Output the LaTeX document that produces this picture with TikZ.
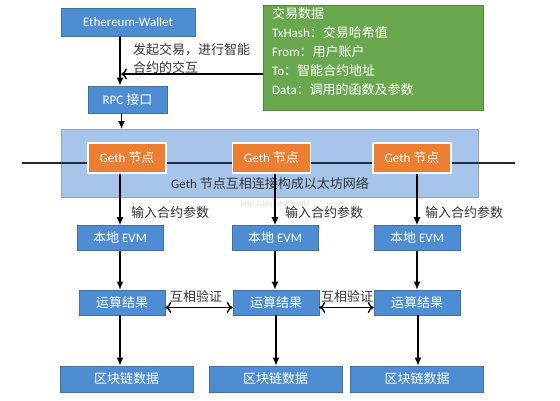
\documentclass[tikz,border=0pt]{standalone}
\usepackage{fontspec}
\setmainfont{Carlito}
\newfontfamily\cjk{Noto Sans CJK SC}
\usetikzlibrary{arrows.meta}
\definecolor{boxblue}{HTML}{4E8DD4}
\definecolor{boxedge}{HTML}{41719C}
\definecolor{bandblue}{HTML}{A7C5EA}
\definecolor{gethor}{HTML}{ED7D31}
\definecolor{grn}{HTML}{6AA84F}
\definecolor{navy}{HTML}{1F2A44}
\definecolor{lbl}{HTML}{333333}
\tikzset{
  bbox/.style={draw=boxedge, line width=0.6pt, fill=boxblue, text=white, font=\fontsize{13}{15}\selectfont, inner sep=0pt},
  gbox/.style={draw=white, line width=1.5pt, fill=gethor, text=white, font=\fontsize{13}{15}\selectfont, inner sep=0pt, minimum width=78pt, minimum height=30pt},
  lab/.style={text=lbl, font=\fontsize{13}{15}\selectfont\cjk, inner sep=0pt, anchor=west},
  arr/.style={line width=1.4pt, -{Latex[length=8pt,width=7pt]}},
  oarr/.style={line width=1.4pt, -{To[length=6pt,width=11pt]}},
  darr/.style={line width=1.4pt, {To[length=6pt,width=11pt]}-{To[length=6pt,width=11pt]}},
}
\begin{document}
\begin{tikzpicture}[x=1pt,y=-1pt]
\useasboundingbox (0,0) rectangle (560,400);
\fill[white] (0,0) rectangle (560,400);

% top part
\node[bbox, minimum width=134pt, minimum height=28pt] (wallet) at (128,22) {Ethereum-Wallet};
\node[bbox, minimum width=79pt, minimum height=27pt] (rpc) at (127.5,99.5) {RPC {\cjk 接口}};
\node[fill=grn, draw=grn!80!black, line width=0.4pt, anchor=north west, minimum width=220pt, minimum height=105pt, inner sep=0pt] (green) at (263,5) {};
\node[anchor=north west, text width=205pt, align=left, inner sep=0pt, text=white,
      font=\fontsize{13}{19}\selectfont] (gtext) at (272,7.5)
  {{\cjk 交易数据}\\TxHash{\cjk ：交易哈希值}\\From{\cjk ：用户账户}\\To{\cjk ：智能合约地址}\\Data{\cjk ：调用的函数及参数}};

\node[lab] (t1) at (133,50) {发起交易，进行智能};
\node[lab] (t2) at (133,68) {合约的交互};

\coordinate (gh) at (121,74);
\draw[arr] ([xshift=-8pt]wallet.south) -- ([xshift=-8pt]wallet.south |- rpc.north);
\draw[oarr] (green.west |- gh) -- (gh);

% band
\node[fill=bandblue, draw=bandblue!85!black, line width=0.4pt, anchor=north west, minimum width=417pt, minimum height=68pt, inner sep=0pt] (band) at (61,129) {};
\draw[arr] ([xshift=-6pt]rpc.south) -- ([xshift=-6pt]rpc.south |- band.north);

\coordinate (L) at (22,163);
\coordinate (R) at (515,163);
\draw[navy, line width=1.5pt] (L) -- (R);

\node[gbox] (g1) at (127,158) {Geth {\cjk 节点}};
\node[gbox] (g2) at (271.5,158) {Geth {\cjk 节点}};
\node[gbox] (g3) at (412,158) {Geth {\cjk 节点}};

\node[text=lbl, font=\fontsize{13}{15}\selectfont, inner sep=0pt, anchor=west] (bt) at (171,184) {Geth {\cjk 节点互相连接构成以太坊网络}};

% EVM
\node[bbox, minimum width=86pt, minimum height=25pt] (e1) at (120,238) {{\cjk 本地} EVM};
\node[bbox, minimum width=86pt, minimum height=25pt] (e2) at (275,238) {{\cjk 本地} EVM};
\node[bbox, minimum width=86pt, minimum height=25pt] (e3) at (417,238) {{\cjk 本地} EVM};

\node[text=gray!25, font=\fontsize{8}{10}\selectfont, inner sep=0pt] (wm) at (275,204) {http://blog.csdn.net/};

\draw[arr] (e1.north |- g1.south) -- (e1.north);
\draw[arr] (e2.north |- g2.south) -- (e2.north);
\draw[arr] (e3.north |- g3.south) -- (e3.north);

\node[lab] (p1) at (131,213) {输入合约参数};
\node[lab] (p2) at (285,213) {输入合约参数};
\node[lab] (p3) at (425,213) {输入合约参数};

% results
\node[bbox, minimum width=86pt, minimum height=25pt, font=\fontsize{13}{15}\selectfont\cjk] (r1) at (122,302.5) {运算结果};
\node[bbox, minimum width=86pt, minimum height=25pt, font=\fontsize{13}{15}\selectfont\cjk] (r2) at (276,302.5) {运算结果};
\node[bbox, minimum width=86pt, minimum height=25pt, font=\fontsize{13}{15}\selectfont\cjk] (r3) at (417,302.5) {运算结果};

\draw[arr] (e1.south) -- (e1.south |- r1.north);
\draw[arr] (e2.south) -- (e2.south |- r2.north);
\draw[arr] (e3.south) -- (e3.south |- r3.north);

\draw[darr] ([yshift=-5pt]r1.east) -- ([yshift=-5pt]r2.west);
\draw[darr] ([yshift=-5pt]r2.east) -- ([yshift=-5pt]r3.west);
\node[lab] (v1) at (170,297) {互相验证};
\node[lab] (v2) at (321,297) {互相验证};

% bottom
\node[bbox, minimum width=133pt, minimum height=26pt, font=\fontsize{13}{15}\selectfont\cjk] (b1) at (126.5,379) {区块链数据};
\node[bbox, minimum width=133pt, minimum height=26pt, font=\fontsize{13}{15}\selectfont\cjk] (b2) at (275.5,379) {区块链数据};
\node[bbox, minimum width=133pt, minimum height=26pt, font=\fontsize{13}{15}\selectfont\cjk] (b3) at (417,379) {区块链数据};

\draw[arr] ([xshift=-2pt]r1.south) -- ([xshift=-2pt]r1.south |- b1.north);
\draw[arr] (r2.south) -- (r2.south |- b2.north);
\draw[arr] ([xshift=1pt]r3.south) -- ([xshift=1pt]r3.south |- b3.north);
\end{tikzpicture}
\end{document}
